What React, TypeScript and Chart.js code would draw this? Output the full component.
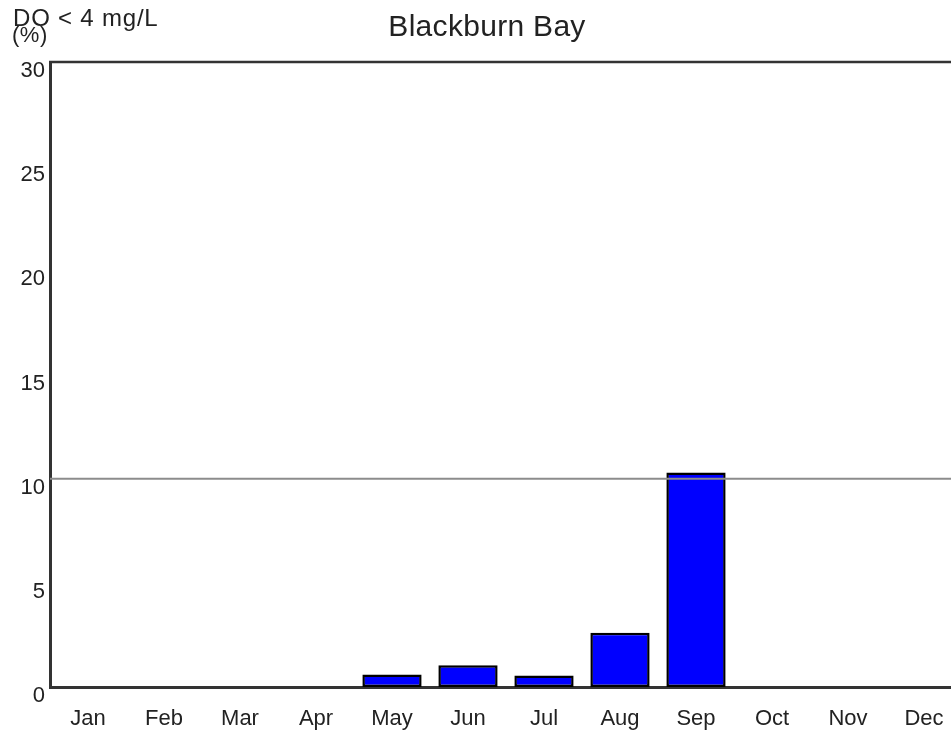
import React, { useEffect, useRef } from "react";
import { Chart, registerables } from "chart.js";

Chart.register(...registerables);

const months = ["Jan", "Feb", "Mar", "Apr", "May", "Jun", "Jul", "Aug", "Sep", "Oct", "Nov", "Dec"];
const doBelow4 = [0, 0, 0, 0, 0.6, 1.05, 0.55, 2.6, 10.3, 0, 0, 0];
const thresholdValue = 10;
const yTicks = [0, 5, 10, 15, 20, 25, 30];
const chartTitle = "Blackburn Bay";
const yTitleLine1 = "DO < 4 mg/L";
const yTitleLine2 = "(%)";

const FONT = "'Liberation Sans', Arial, Helvetica, sans-serif";

export default function App() {
  const ref = useRef<HTMLCanvasElement | null>(null);

  useEffect(() => {
    if (!ref.current) return;
    const overlay = {
      id: "overlay",
      afterDatasetsDraw(chart: any) {
        const { ctx, chartArea, scales } = chart;
        ctx.save();
        // threshold line
        const y = scales.y.getPixelForValue(thresholdValue);
        ctx.strokeStyle = "#8c8c8c";
        ctx.lineWidth = 2;
        ctx.beginPath();
        ctx.moveTo(chartArea.left, y);
        ctx.lineTo(chartArea.right, y);
        ctx.stroke();
        // top frame line
        ctx.strokeStyle = "#333";
        ctx.lineWidth = 2.5;
        ctx.beginPath();
        ctx.moveTo(chartArea.left - 1, chartArea.top);
        ctx.lineTo(chartArea.right, chartArea.top);
        ctx.stroke();
        // texts
        ctx.fillStyle = "#222";
        ctx.textBaseline = "alphabetic";
        (ctx as any).letterSpacing = "0.3px";
        ctx.font = `30px ${FONT}`;
        ctx.textAlign = "center";
        ctx.fillText(chartTitle, 487, 36);
        (ctx as any).letterSpacing = "0.8px";
        ctx.font = `24px ${FONT}`;
        ctx.textAlign = "left";
        ctx.fillText(yTitleLine1, 13, 26);
        (ctx as any).letterSpacing = "0.5px";
        ctx.font = `22px ${FONT}`;
        ctx.fillText(yTitleLine2, 12, 42);
        ctx.restore();
      },
    };

    const chart = new Chart(ref.current, {
      type: "bar",
      data: {
        labels: months,
        datasets: [
          {
            data: doBelow4,
            backgroundColor: "#0000ff",
            borderColor: "#000",
            borderWidth: 2.5,
            borderSkipped: false,
            barPercentage: 0.78,
            categoryPercentage: 1,
          },
        ],
      },
      options: {
        responsive: false,
        animation: false,
        layout: { padding: { top: 62, right: 3, left: 0, bottom: 0 } },
        plugins: { legend: { display: false }, title: { display: false }, tooltip: { enabled: false } },
        scales: {
          x: {
            grid: { display: false, tickLength: 0 },
            border: { display: true, color: "#333", width: 3 },
            ticks: { color: "#222", font: { family: FONT, size: 22 }, padding: 19, maxRotation: 0, autoSkip: false },
            afterFit: (s: any) => {
              s.height = 43;
            },
          },
          y: {
            min: 0,
            max: 30,
            afterBuildTicks: (s: any) => {
              s.ticks = yTicks.map((v) => ({ value: v }));
            },
            grid: { display: false, tickLength: 0 },
            border: { display: true, color: "#333", width: 3 },
            ticks: { color: "#222", font: { family: FONT, size: 22 }, padding: 5, labelOffset: 9 },
            afterFit: (s: any) => {
              s.width = 50;
            },
          },
        },
      },
      plugins: [overlay],
    });
    return () => chart.destroy();
  }, []);

  return (
    <div style={{ position: "absolute", left: 0, top: 0, width: 951, height: 730, overflow: "hidden", background: "#fff" }}>
      <canvas ref={ref} width={965} height={730} style={{ display: "block" }} />
    </div>
  );
}
